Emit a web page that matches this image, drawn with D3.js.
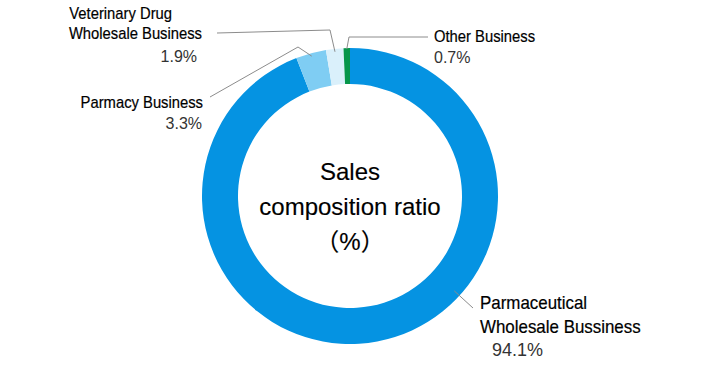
<!doctype html>
<html>
<head>
<meta charset="utf-8">
<style>
  body { margin: 0; background: #fff; }
  svg text { font-family: "Liberation Sans", Arial, "Noto Sans CJK JP", sans-serif; }
  .name { fill: #000; stroke: #000; stroke-width: 0.2px; }
  .pct { fill: #333; }
  .center { fill: #000; stroke: #000; stroke-width: 0.15px; }
  .leader { fill: none; stroke: #8c8c8c; stroke-width: 1; }
</style>
<script src="https://d3js.org/d3.v7.min.js"></script>
</head>
<body>
<svg width="718" height="373"></svg>
<script>
// chart data
var categories = ["Parmaceutical Wholesale Bussiness", "Parmacy Business", "Veterinary Drug Wholesale Business", "Other Business"];
var values = [94.1, 3.3, 1.9, 0.7];
var pctLabels = ["94.1%", "3.3%", "1.9%", "0.7%"];
var nameLines = [["Parmaceutical", "Wholesale Bussiness"], ["Parmacy Business"], ["Veterinary Drug", "Wholesale Business"], ["Other Business"]];
var colors = ["#0593e2", "#7fcdf3", "#daf0fb", "#06964a"];
var centerLines = ["Sales", "composition ratio", "（%）"];

var svg = d3.select("svg"),
    cx = 350, cy = 196,
    outerR = 148, innerR = 112;

var g = svg.append("g").attr("transform", "translate(" + cx + "," + cy + ")");

var data = categories.map(function(c, i) { return { name: c, value: values[i], i: i }; });

var pie = d3.pie().sort(null).value(function(d) { return d.value; });
var arc = d3.arc().innerRadius(innerR).outerRadius(outerR);
var arcs = pie(data);

g.selectAll("path.slice")
  .data(arcs)
  .enter().append("path")
  .attr("class", "slice")
  .attr("d", arc)
  .attr("fill", function(d) { return colors[d.data.i]; });

// center title
g.selectAll("text.center")
  .data(centerLines)
  .enter().append("text")
  .attr("class", "center")
  .attr("text-anchor", "middle")
  .attr("x", 0)
  .attr("y", function(d, i) { return -16 + i * 35; })
  .attr("font-size", "24px")
  .text(function(d) { return d; });

// label layout (label anchors + leader bends), in page coords
// size/sx = name font size and horizontal squeeze, psize = percent font size
var layout = [
  { anchor: "start", size: 18, sx: 0.94, psize: 18, x: [480, 480, 492], y: [309, 333, 356], angle: 132.3, r: 141, bends: [[473, 308]] },
  { anchor: "end", size: 17, sx: 0.87, psize: 16, x: [203, 202], y: [108, 129], r: 145, bends: [[298, 47], [210, 97]] },
  { anchor: "end", size: 17, sx: 0.87, psize: 16, x: [172, 202, 197], y: [19, 39, 62], r: 145, bends: [[330, 30], [217, 33]] },
  { anchor: "start", size: 17, sx: 0.87, psize: 16, x: [434, 434], y: [42, 63], r: 147, bends: [[349, 37], [428, 37]] }
];

function polar(angleRad, r) {
  return [cx + r * Math.sin(angleRad), cy - r * Math.cos(angleRad)];
}

arcs.forEach(function(a) {
  var i = a.data.i, L = layout[i];
  var ang = L.angle != null ? L.angle * Math.PI / 180 : (a.startAngle + a.endAngle) / 2;
  var pts = [polar(ang, L.r)].concat(L.bends);
  svg.append("path")
    .attr("class", "leader")
    .attr("d", d3.line()(pts));

  var lines = nameLines[i].concat([pctLabels[i]]);
  lines.forEach(function(t, k) {
    var isPct = k === lines.length - 1;
    svg.append("text")
      .attr("class", isPct ? "pct" : "name")
      .attr("text-anchor", L.anchor)
      .attr("transform", "translate(" + L.x[k] + "," + L.y[k] + ")" + (isPct ? "" : " scale(" + L.sx + ",1)"))
      .attr("font-size", (isPct ? L.psize : L.size) + "px")
      .text(t);
  });
});
</script>
</body>
</html>
